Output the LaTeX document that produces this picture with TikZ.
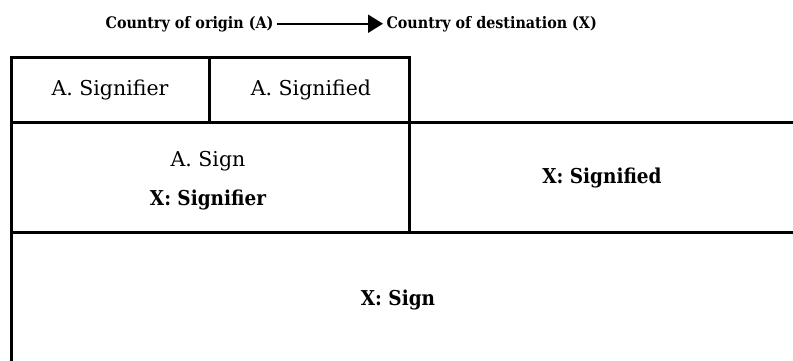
\documentclass[tikz,border=0pt]{standalone}
\usepackage{fontspec}
\setmainfont{DejaVu Serif}
\newfontfamily\condfont{DejaVu Serif Condensed}
\usetikzlibrary{arrows.meta,positioning}

\begin{document}
\begin{tikzpicture}[x=1pt,y=-1pt,>={Triangle[length=15pt,width=18pt]},
head/.style={font=\condfont\bfseries\fontsize{15.9}{19}\selectfont},
cell/.style={font=\fontsize{20.5}{24}\selectfont},
xcell/.style={font=\condfont\bfseries\fontsize{20.5}{24}\selectfont},
rule/.style={line width=3pt}]
\useasboundingbox (0,0) rectangle (793,360);
\node[head,anchor=base east] (origin) at (277,28) {Country of origin (A)};
\node[head,anchor=base west] (dest) at (383,28) {Country of destination (X)};
\draw[->,line width=2pt] (origin) -- (dest);
% table
\draw[rule] (11,361) -- (11,57) -- (409,57) -- (409,232);
\draw[rule] (209,57) -- (209,122);
\draw[rule] (11,122) -- (794,122);
\draw[rule] (11,232) -- (794,232);
\node[cell] (asignifier) at (110,90) {A. Signifier};
\node[cell] (asignified) at (311,90) {A. Signified};
\node[cell,anchor=base] (asign) at (208,166) {A. Sign};
\node[xcell,anchor=base] (xsignifier) at (208,205) {X: Signifier};
\node[xcell,anchor=base] (xsignified) at (602,183) {X: Signified};
\node[xcell,anchor=base] (xsign) at (398,305) {X: Sign};
\end{tikzpicture}
\end{document}
